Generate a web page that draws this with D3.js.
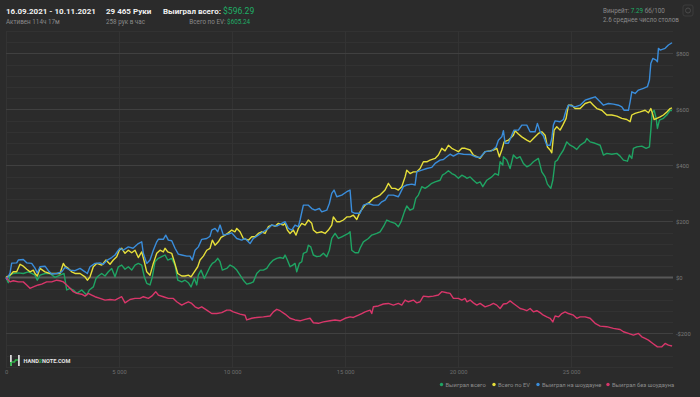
<!DOCTYPE html>
<html><head><meta charset="utf-8">
<script src="https://cdn.jsdelivr.net/npm/d3@7"></script>
<style>
html,body{margin:0;padding:0;background:#2b2b2b;}
svg{display:block;font-family:Roboto,"Noto Sans",sans-serif;}
</style></head>
<body><svg id="c" width="700" height="397"></svg>
<script>
// ---- data ----
const totalHands = 29465;
const xTicks = [0, 5000, 10000, 15000, 20000, 25000];
const xTickLabels = ["0", "5 000", "10 000", "15 000", "20 000", "25 000"];
const yTicks = [-200, 0, 200, 400, 600, 800];
const yTickLabels = ["-$200", "$0", "$200", "$400", "$600", "$800"];
const seriesNames = ["Выиграл всего", "Всего по EV", "Выиграл на шоудауне", "Выиграл без шоудауна"];
const seriesColors = ["#1fa463", "#e6df3a", "#3a8ddb", "#d8366a"];

const wonTotal = [[0,0],[102,-19],[177,8],[323,14],[544,16],[766,14],[987,20],[1137,14],[1283,8],[1385,-10],[1505,8],[1726,14],[1947,14],[2168,0],[2390,8],[2567,14],[2686,-45],[2832,-39],[2978,-45],[3129,-57],[3350,-45],[3571,-63],[3686,-45],[3863,-34],[3983,-4],[4084,5],[4235,14],[4381,5],[4527,20],[4677,32],[4823,2],[4970,38],[5120,44],[5266,29],[5412,38],[5562,26],[5708,44],[5854,50],[6005,44],[6120,2],[6226,-21],[6372,-27],[6474,2],[6593,56],[6739,68],[6890,74],[7036,80],[7155,62],[7332,68],[7478,44],[7598,-10],[7775,-16],[7921,-10],[8067,-19],[8186,-34],[8332,-4],[8439,-27],[8510,8],[8629,26],[8775,-4],[8881,14],[9027,38],[9129,50],[9248,56],[9368,68],[9470,56],[9571,26],[9766,32],[9912,44],[10058,38],[10209,26],[10355,8],[10501,-10],[10651,-24],[10797,-21],[10943,-16],[11093,14],[11239,26],[11386,26],[11536,32],[11682,50],[11828,62],[11979,68],[12125,71],[12271,68],[12346,80],[12448,62],[12567,38],[12686,44],[12788,50],[12863,20],[12978,50],[13085,56],[13156,86],[13306,91],[13377,115],[13483,109],[13598,80],[13749,74],[13895,76],[14041,86],[14191,74],[14306,97],[14412,139],[14558,157],[14704,139],[14855,145],[15001,151],[15147,157],[15222,163],[15297,97],[15443,88],[15590,88],[15665,104],[15811,127],[16032,139],[16182,151],[16404,157],[16550,163],[16696,181],[16846,205],[16992,199],[17213,193],[17359,181],[17479,199],[17625,234],[17731,255],[17877,240],[18023,246],[18129,282],[18245,294],[18395,324],[18541,318],[18687,326],[18837,336],[18983,341],[19205,347],[19306,365],[19426,371],[19572,381],[19722,371],[19868,365],[20015,354],[20165,365],[20311,359],[20387,354],[20532,359],[20679,347],[20829,336],[20975,341],[21094,324],[21271,347],[21492,359],[21638,371],[21784,365],[21860,413],[21979,401],[22006,431],[22156,419],[22302,389],[22448,437],[22599,425],[22745,431],[22891,407],[23041,395],[23187,401],[23333,413],[23554,425],[23705,377],[23851,359],[23953,333],[24103,318],[24192,347],[24293,413],[24395,419],[24515,437],[24661,455],[24811,484],[24957,472],[25104,466],[25253,457],[25400,472],[25621,484],[25696,496],[25842,484],[26063,479],[26285,472],[26431,437],[26581,443],[26802,440],[27023,443],[27170,433],[27316,419],[27493,415],[27581,437],[27687,425],[27758,461],[27908,466],[28129,469],[28320,461],[28467,466],[28528,526],[28586,586],[28675,597],[28763,568],[28820,532],[28909,562],[29086,568],[29236,580],[29382,597],[29465,596.29]];

const totalEV = [[0,0],[177,8],[323,20],[473,20],[620,47],[766,40],[916,29],[1062,20],[1208,26],[1283,14],[1385,5],[1505,32],[1726,20],[1947,14],[2168,14],[2390,14],[2536,50],[2611,40],[2757,32],[2907,20],[3053,14],[3275,14],[3496,2],[3598,-10],[3717,2],[3863,38],[4014,50],[4235,44],[4425,62],[4602,47],[4748,62],[4898,74],[5014,97],[5120,104],[5266,86],[5412,97],[5562,88],[5708,97],[5854,71],[6005,91],[6120,56],[6226,20],[6372,8],[6518,50],[6669,86],[6815,97],[6961,91],[7036,104],[7155,91],[7332,86],[7448,56],[7598,14],[7775,5],[7921,5],[8067,8],[8186,2],[8332,20],[8483,38],[8585,62],[8731,76],[8881,97],[9027,104],[9129,133],[9248,115],[9394,127],[9514,143],[9691,151],[9837,159],[9987,169],[10133,163],[10209,175],[10355,163],[10501,139],[10722,133],[10872,145],[11018,145],[11164,157],[11315,163],[11461,157],[11607,181],[11757,187],[11903,183],[12049,193],[12271,187],[12346,193],[12448,169],[12567,157],[12713,169],[12832,151],[12934,175],[13085,193],[13231,187],[13377,205],[13527,193],[13598,169],[13749,159],[13970,163],[14116,157],[14262,169],[14412,187],[14483,216],[14633,199],[14780,199],[14926,205],[15076,216],[15222,216],[15368,222],[15519,207],[15665,234],[15886,258],[16107,270],[16253,282],[16404,288],[16550,294],[16771,312],[16917,336],[17067,318],[17213,318],[17359,312],[17510,324],[17656,359],[17731,383],[17877,371],[18023,377],[18174,377],[18320,389],[18466,413],[18616,413],[18762,419],[18983,425],[19129,437],[19280,461],[19426,452],[19572,472],[19722,461],[19868,455],[20015,449],[20165,461],[20311,461],[20532,455],[20679,437],[20829,431],[20975,425],[21196,449],[21417,452],[21563,455],[21713,461],[21829,431],[21935,455],[22037,484],[22227,490],[22448,508],[22523,524],[22669,512],[22820,502],[23041,490],[23187,484],[23333,496],[23554,514],[23705,520],[23851,508],[23953,466],[24072,455],[24147,445],[24249,526],[24368,538],[24515,526],[24634,544],[24780,568],[24882,615],[25032,615],[25178,603],[25400,603],[25621,621],[25842,627],[25988,615],[26139,603],[26360,597],[26581,580],[26802,580],[27023,576],[27245,568],[27466,564],[27612,556],[27687,580],[27833,586],[28055,591],[28276,597],[28422,588],[28528,603],[28599,586],[28675,564],[28794,568],[28940,573],[29086,580],[29236,591],[29382,603],[29465,605.24]];

const wonShowdown = [[0,0],[31,-7],[177,15],[252,51],[473,52],[544,62],[766,64],[916,52],[1137,50],[1283,33],[1385,16],[1505,38],[1726,40],[1872,24],[2022,12],[2243,14],[2465,20],[2611,36],[2832,26],[3053,24],[3275,32],[3496,20],[3598,14],[3717,38],[3938,50],[4160,52],[4306,47],[4483,62],[4677,71],[4823,80],[4970,97],[5045,104],[5177,97],[5412,109],[5620,104],[5854,121],[6005,127],[6076,86],[6226,50],[6372,62],[6518,97],[6669,127],[6739,136],[6961,136],[7067,151],[7182,133],[7332,131],[7478,104],[7624,83],[7775,80],[7996,76],[8142,76],[8244,62],[8363,97],[8510,109],[8660,136],[8881,139],[9027,147],[9102,169],[9248,175],[9368,163],[9470,187],[9616,151],[9837,155],[9987,159],[10209,139],[10430,133],[10576,139],[10797,121],[10943,139],[11164,151],[11386,163],[11607,175],[11757,187],[11979,183],[12200,193],[12346,199],[12492,175],[12642,169],[12788,187],[12934,181],[13010,205],[13156,258],[13377,258],[13527,246],[13673,240],[13864,246],[13970,234],[14191,240],[14306,264],[14412,300],[14514,312],[14633,288],[14855,294],[15076,306],[15222,312],[15297,234],[15443,229],[15665,229],[15811,258],[16032,264],[16253,258],[16474,258],[16625,270],[16771,276],[16917,294],[17138,294],[17359,288],[17435,300],[17581,324],[17731,330],[17952,333],[18098,330],[18174,377],[18395,383],[18616,389],[18837,393],[18983,407],[19205,419],[19351,421],[19501,431],[19647,440],[19793,433],[20015,443],[20236,440],[20532,439],[20753,431],[20975,428],[21196,449],[21492,452],[21683,466],[21784,490],[21935,502],[22006,524],[22081,479],[22227,479],[22377,508],[22479,526],[22669,526],[22820,544],[23041,544],[23187,520],[23408,520],[23510,550],[23630,520],[23776,505],[23926,472],[24072,472],[24147,496],[24218,544],[24293,559],[24515,556],[24661,564],[24780,597],[24882,615],[25032,612],[25178,609],[25400,615],[25621,633],[25842,639],[26063,645],[26285,627],[26431,615],[26652,621],[26873,619],[27095,615],[27245,609],[27347,597],[27537,597],[27612,627],[27687,663],[27833,657],[27980,669],[28201,675],[28378,681],[28467,705],[28528,764],[28617,782],[28763,776],[28820,770],[28865,818],[28940,812],[29161,818],[29307,830],[29465,838]];

const wonNonShowdown = [[0,0],[177,-16],[323,-12],[544,-16],[766,-16],[916,-27],[1062,-39],[1208,-34],[1429,-27],[1580,-24],[1801,-16],[2022,-16],[2243,-10],[2390,-12],[2536,-16],[2686,-27],[2832,-39],[2978,-51],[3129,-57],[3350,-60],[3496,-67],[3642,-57],[3792,-63],[3938,-69],[4160,-75],[4381,-81],[4602,-79],[4823,-81],[4970,-75],[5120,-69],[5266,-91],[5487,-79],[5708,-75],[5930,-75],[6076,-69],[6297,-75],[6447,-67],[6624,-51],[6739,-63],[6961,-69],[7182,-75],[7403,-75],[7554,-87],[7775,-99],[7921,-93],[8067,-87],[8217,-93],[8363,-105],[8510,-111],[8660,-105],[8881,-117],[9102,-129],[9324,-129],[9545,-126],[9766,-117],[9912,-117],[10058,-123],[10355,-131],[10576,-135],[10651,-152],[10872,-146],[11093,-143],[11386,-141],[11682,-138],[11828,-123],[11979,-114],[12125,-119],[12346,-131],[12567,-146],[12788,-152],[13010,-155],[13231,-150],[13452,-146],[13598,-162],[13820,-164],[14041,-159],[14337,-155],[14558,-152],[14780,-155],[15001,-146],[15222,-141],[15368,-143],[15590,-135],[15740,-129],[15886,-123],[16107,-117],[16182,-129],[16253,-105],[16474,-102],[16696,-95],[16917,-93],[17138,-99],[17359,-93],[17510,-99],[17656,-81],[17802,-87],[18023,-81],[18174,-91],[18320,-87],[18466,-67],[18687,-69],[18908,-67],[19129,-63],[19280,-51],[19501,-55],[19647,-57],[19793,-75],[20015,-75],[20165,-81],[20311,-75],[20387,-87],[20532,-81],[20679,-91],[20829,-99],[20975,-93],[21196,-105],[21417,-99],[21563,-93],[21713,-99],[21860,-111],[22006,-95],[22156,-93],[22302,-84],[22448,-93],[22599,-102],[22745,-111],[22891,-114],[23041,-119],[23187,-111],[23333,-123],[23484,-119],[23630,-126],[23776,-135],[23926,-141],[24072,-146],[24192,-159],[24293,-138],[24440,-141],[24590,-129],[24736,-123],[24882,-129],[25104,-135],[25253,-146],[25400,-141],[25621,-141],[25842,-146],[26063,-164],[26285,-174],[26581,-176],[26873,-182],[27170,-186],[27316,-194],[27537,-200],[27758,-206],[27980,-200],[28129,-212],[28276,-218],[28422,-224],[28617,-236],[28820,-248],[29015,-248],[29161,-236],[29307,-242],[29465,-245]];

const allSeries = [wonTotal, totalEV, wonShowdown, wonNonShowdown];

// ---- drawing ----
const svg = d3.select("#c");
const W = 700, H = 397;
svg.append("rect").attr("width", W).attr("height", H).attr("fill", "#2b2b2b");

const plot = {left: 6, right: 672, top: 31, bottom: 367};
const x = d3.scaleLinear().domain([0, totalHands]).range([plot.left, plot.right]);
const y = d3.scaleLinear().domain([-320, 880]).range([plot.bottom, plot.top]);

// minor horizontal grid
const minor = d3.range(-320, 881, 40).filter(v => v % 200 !== 0);
svg.append("g").selectAll("line").data(minor).join("line")
  .attr("x1", plot.left).attr("x2", plot.right + 1)
  .attr("y1", d => Math.round(y(d)) + 0.5).attr("y2", d => Math.round(y(d)) + 0.5)
  .attr("stroke", "#323232").attr("stroke-width", 1);
// vertical grid
svg.append("g").selectAll("line").data(xTicks).join("line")
  .attr("x1", d => Math.round(x(d)) + 0.5).attr("x2", d => Math.round(x(d)) + 0.5)
  .attr("y1", plot.top).attr("y2", plot.bottom + 1)
  .attr("stroke", "#333333").attr("stroke-width", 1);
// major horizontal grid
svg.append("g").selectAll("line").data(yTicks.filter(v => v !== 0)).join("line")
  .attr("x1", plot.left).attr("x2", plot.right + 1)
  .attr("y1", d => Math.round(y(d)) + 0.5).attr("y2", d => Math.round(y(d)) + 0.5)
  .attr("stroke", "#404040").attr("stroke-width", 1);
svg.append("line").attr("x1", plot.left).attr("x2", plot.right + 1)
  .attr("y1", y(0)).attr("y2", y(0)).attr("stroke", "#585858").attr("stroke-width", 2);

// y labels
const yAxis = d3.axisRight(y).tickValues(yTicks).tickSize(0).tickPadding(0)
  .tickFormat((d, i) => yTickLabels[i]);
const gy = svg.append("g").attr("transform", `translate(${plot.right + 4},0)`).call(yAxis);
gy.select(".domain").remove();
gy.selectAll("text").attr("fill", "#7a7a7a").attr("font-size", 5.8).attr("font-family", "Roboto");

// x labels
const xAxis = d3.axisBottom(x).tickValues(xTicks).tickSize(0).tickPadding(0)
  .tickFormat((d, i) => xTickLabels[i]);
const gx = svg.append("g").attr("transform", `translate(0,${plot.bottom + 3})`).call(xAxis);
gx.select(".domain").remove();
gx.selectAll("text").attr("fill", "#6e6e6e").attr("font-size", 5.8).attr("font-family", "Roboto");

// lines
const line = d3.line().x(d => x(d[0])).y(d => y(d[1]));
allSeries.forEach((s, i) => {
  svg.append("path").datum(s).attr("d", line)
    .attr("fill", "none").attr("stroke", seriesColors[i])
    .attr("stroke-width", 1.4).attr("stroke-linejoin", "round");
});

// header
const hdr = svg.append("g").attr("font-family", "Roboto");
hdr.append("text").attr("x", 6).attr("y", 13.5).attr("fill", "#f0f0f0").attr("font-size", 8)
  .attr("font-weight", 700).text("16.09.2021 - 10.11.2021");
hdr.append("text").attr("x", 6).attr("y", 23.5).attr("fill", "#8a8a8a").attr("font-size", 6.3)
  .text("Активен 114ч 17м");
hdr.append("text").attr("x", 106).attr("y", 13.5).attr("fill", "#f0f0f0").attr("font-size", 8)
  .attr("font-weight", 700).text("29 465 Руки");
hdr.append("text").attr("x", 106).attr("y", 23.5).attr("fill", "#8a8a8a").attr("font-size", 6.3)
  .text("258 рук в час");
const t1 = hdr.append("text").attr("x", 163).attr("y", 13.5).attr("font-size", 8).attr("font-weight", 700);
t1.append("tspan").attr("fill", "#f0f0f0").text("Выиграл всего: ");
t1.append("tspan").attr("fill", "#1fae66").attr("font-weight", 400).attr("font-size", 8.6).text("$596.29");
const t2 = hdr.append("text").attr("x", 250).attr("y", 23.5).attr("font-size", 6.3).attr("text-anchor", "end");
t2.append("tspan").attr("fill", "#8a8a8a").text("Всего по EV: ");
t2.append("tspan").attr("fill", "#1fae66").text("$605.24");
const t3 = hdr.append("text").attr("x", 603).attr("y", 12.5).attr("font-size", 6.3);
t3.append("tspan").attr("fill", "#8a8a8a").text("Винрейт: ");
t3.append("tspan").attr("fill", "#1fae66").text("7.29");
t3.append("tspan").attr("fill", "#8a8a8a").text(" бб/100");
hdr.append("text").attr("x", 603).attr("y", 22).attr("fill", "#8a8a8a").attr("font-size", 6.3)
  .text("2.6 среднее число столов");
// settings button
hdr.append("rect").attr("x", 683).attr("y", 5).attr("width", 10).attr("height", 11).attr("rx", 2)
  .attr("fill", "none").attr("stroke", "#3c3c3c");
hdr.append("circle").attr("cx", 688).attr("cy", 10.5).attr("r", 2.5).attr("fill", "none").attr("stroke", "#4a4a4a");

// logo
const logo = svg.append("g");
logo.append("rect").attr("x", 10).attr("y", 355).attr("width", 1.8).attr("height", 11).attr("fill", "#d8d8d8");
logo.append("rect").attr("x", 18).attr("y", 355).attr("width", 1.8).attr("height", 11).attr("fill", "#d8d8d8");
logo.append("path").attr("d", "M11.8,362 L14.5,362 L15.5,360 L18,360").attr("fill", "none")
  .attr("stroke", "#2fb34a").attr("stroke-width", 1.6);
logo.append("rect").attr("x", 10).attr("y", 362).attr("width", 1.8).attr("height", 4).attr("fill", "#2fb34a");
const lt = logo.append("text").attr("x", 23.5).attr("y", 363).attr("font-size", 5.6)
  .attr("font-weight", 700).attr("font-family", "Roboto");
lt.append("tspan").attr("fill", "#e6e6e6").text("HAND");
lt.append("tspan").attr("fill", "#2fb34a").text("2");
lt.append("tspan").attr("fill", "#e6e6e6").text("NOTE.COM");

// legend
const legendX = [441.5, 494, 538, 608];
const lg = svg.append("g").attr("font-family", "Roboto");
seriesNames.forEach((n, i) => {
  lg.append("circle").attr("cx", legendX[i]).attr("cy", 384.5).attr("r", 1.7).attr("fill", seriesColors[i]);
  lg.append("text").attr("x", legendX[i] + 4).attr("y", 386.5).attr("font-size", 5.8)
    .attr("fill", "#8c8c8c").text(n);
});
</script></body></html>
